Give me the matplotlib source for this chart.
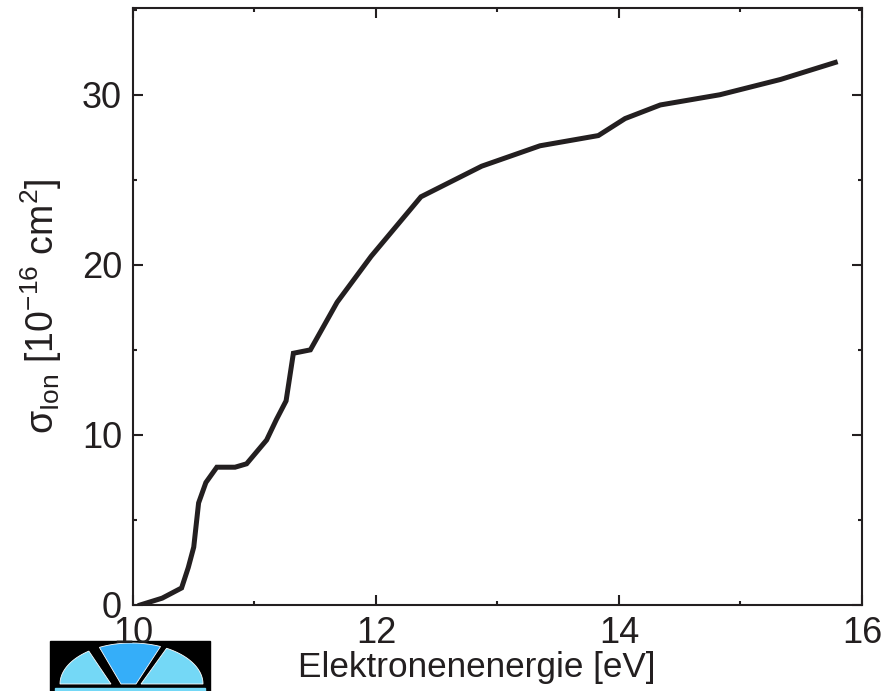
import matplotlib
matplotlib.use('Agg')
import matplotlib.pyplot as plt
from matplotlib.patches import Polygon, Rectangle
from matplotlib.ticker import MultipleLocator
import numpy as np

plt.rcParams['font.family'] = ['Liberation Sans', 'DejaVu Sans']
plt.rcParams['mathtext.fontset'] = 'custom'
plt.rcParams['mathtext.rm'] = 'Liberation Sans'
plt.rcParams['mathtext.it'] = 'Liberation Sans'

# ionisation cross section vs. electron energy
energy = [10.06, 10.24, 10.40, 10.455, 10.50, 10.54, 10.60, 10.69, 10.84, 10.935,
          11.10, 11.18, 11.26, 11.32, 11.46, 11.68, 11.96, 12.37, 12.87, 13.35,
          13.83, 14.05, 14.34, 14.83, 15.33, 15.78]
sigma = [0.0, 0.4, 1.0, 2.2, 3.4, 6.0, 7.2, 8.1, 8.1, 8.3,
         9.7, 10.9, 12.0, 14.8, 15.0, 17.8, 20.5, 24.0, 25.8, 27.0,
         27.6, 28.6, 29.4, 30.0, 30.9, 31.9]

xticks = [10, 12, 14, 16]
yticks = [0, 10, 20, 30]

ink = '#231f20'

fig = plt.figure(figsize=(8.86, 6.91), dpi=100)
ax = fig.add_axes([0.1501, 0.1245, 0.8228, 0.8639])
ax.plot(energy, sigma, color=ink, lw=3.6, solid_joinstyle='miter')
ax.set_xlim(10, 16)
ax.set_ylim(0, 35.1)
ax.set_xticks(xticks)
ax.set_yticks(yticks)
ax.xaxis.set_minor_locator(MultipleLocator(1))
ax.yaxis.set_minor_locator(MultipleLocator(5))
ax.tick_params(which='both', direction='in', top=True, right=True,
               width=1.5, color=ink, labelsize=26, labelcolor=ink)
ax.tick_params(which='major', length=7, pad=8)
ax.tick_params(which='minor', length=3)
for s in ax.spines.values():
    s.set_linewidth(1.5)
    s.set_color(ink)
ax.set_xlabel('Elektronenenergie [eV]', fontsize=25.3, color=ink, labelpad=0)
ax.xaxis.label.set_x(0.472)
ax.set_ylabel('σ$_{\\mathrm{Ion}}$ [10$^{\\mathrm{-16}}$ cm$^{2}$]', fontsize=27,
              color=ink, labelpad=13)

# logo in the lower left corner, drawn in figure pixels
lg = fig.add_axes([0, 0, 1, 1], zorder=-1)
lg.set_xlim(0, 886)
lg.set_ylim(691, 0)
lg.axis('off')
lg.add_patch(Rectangle((50, 641), 160, 50, color='black'))
light = '#74d8f6'
mid = '#35aef9'
cx, by, rx, ry = 131.5, 684, 71.5, 41
t = np.linspace(np.pi, 0, 200)
ex = cx + rx * np.cos(t)
ey = by - ry * np.sin(t)
left = [(x, y) for x, y in zip(ex, ey) if x <= 89] + [(111, 684)]
right = [(141, 684)] + [(x, y) for x, y in zip(ex, ey) if x >= 166]
middle = [(x, y) for x, y in zip(ex, ey) if 99 <= x <= 161] + [(136, 684), (121, 684)]
lg.add_patch(Polygon(left, closed=True, color=light, ec='white', lw=0.6))
lg.add_patch(Polygon(right, closed=True, color=light, ec='white', lw=0.6))
lg.add_patch(Polygon(middle, closed=True, color=mid, ec='white', lw=0.6))
lg.add_patch(Rectangle((55, 688), 150, 3, color=light))

fig.savefig('out.png', dpi=100)
